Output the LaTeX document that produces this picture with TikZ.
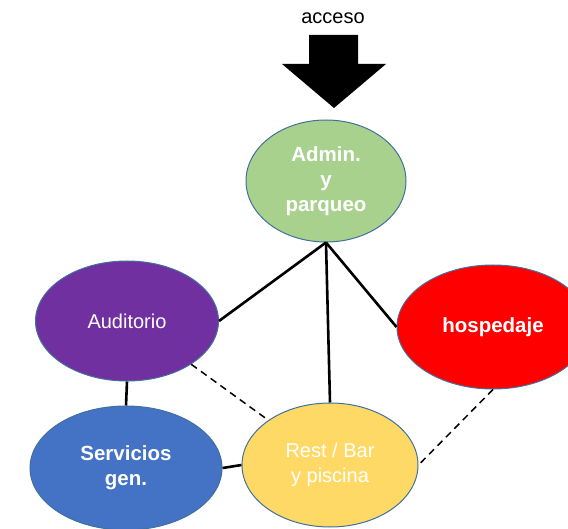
\documentclass[tikz,border=0pt]{standalone}
\usepackage{fontspec}
\setmainfont{Liberation Sans}
\usetikzlibrary{shapes.geometric}
\definecolor{edgeblue}{HTML}{41719C}
\definecolor{cgreen}{HTML}{A9D18E}
\definecolor{cpurple}{HTML}{7030A0}
\definecolor{cred}{HTML}{FF0000}
\definecolor{cblue}{HTML}{4472C4}
\definecolor{cyellow}{HTML}{FFD966}
\tikzset{
  zone/.style={ellipse, draw=edgeblue, line width=1pt, text=white, align=center,
    font=\fontsize{20}{24}\selectfont, inner sep=0pt},
  link/.style={line width=2.6pt, black},
  weak/.style={line width=1.5pt, black, dash pattern=on 7pt off 5pt}
}
\begin{document}
\begin{tikzpicture}[x=1pt,y=-1pt]
\useasboundingbox (0,0) rectangle (568,529);
\clip (0,0) rectangle (568,529);
% access arrow
\fill[black] (309,35) -- (358,35) -- (358,64) -- (386,64) -- (334,108) -- (282,64) -- (309,64) -- cycle;
\node[font=\fontsize{20}{23}\selectfont] (acc) at (333,18) {acceso};
% zones
\node[zone, fill=cgreen, minimum width=160pt, minimum height=122pt, font=\fontsize{20.5}{25}\selectfont\bfseries] (adm) at (326,181) {Admin.\\y\\parqueo};
\node[zone, fill=cpurple, minimum width=183pt, minimum height=120pt] (aud) at (127,321) {Auditorio};
\node[zone, fill=cred, minimum width=192pt, minimum height=124pt, font=\fontsize{20.5}{24}\selectfont\bfseries] (hos) at (493,327) {hospedaje};
\node[zone, fill=cblue, minimum width=192pt, minimum height=124pt, font=\fontsize{20.5}{25}\selectfont\bfseries] (ser) at (126,468) {Servicios\\gen.};
\node[zone, fill=cyellow, minimum width=176pt, minimum height=124pt, font=\fontsize{20}{25}\selectfont] (rst) at (330,465) {Rest / Bar\\y piscina};
% connectors
\draw[link] (adm.south) -- (aud.east);
\draw[link] (adm.south) -- (hos.west);
\draw[link] (adm.south) -- (rst.north);
\draw[link] (aud.south) -- (ser.north);
\draw[link] (ser.east) -- (rst.west);
\draw[weak] (aud.-34) -- (rst.144);
\draw[weak] (hos.south) -- (rst.east);
\end{tikzpicture}
\end{document}
